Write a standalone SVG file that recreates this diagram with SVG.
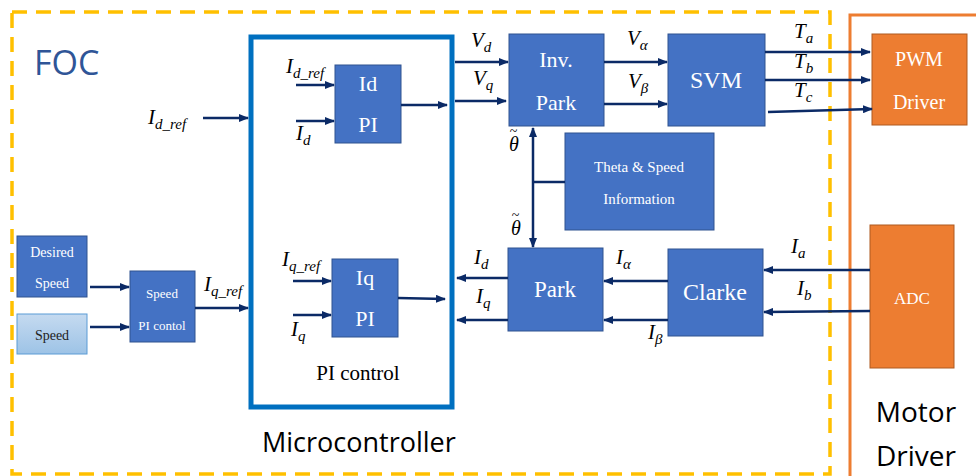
<svg xmlns="http://www.w3.org/2000/svg" width="976" height="476" viewBox="0 0 976 476">
<style>
.blk{fill:#4472C4;stroke:#2F528F;stroke-width:1}
.org{fill:#ED7D31;stroke:#AE5A21;stroke-width:1}
.bt{font-family:'Liberation Serif','Times New Roman',serif;fill:#fff;text-anchor:middle}
.m{font-family:'Liberation Serif','Times New Roman',serif;font-style:italic;font-size:21px;fill:#000}
.th{font-family:'Liberation Serif',serif;font-style:italic;font-size:20px;fill:#000}
.tl{font-style:normal;font-size:14px}
.s{font-size:15px}
.w{stroke:#0B2A66;stroke-width:2.5;fill:none}
.a{marker-end:url(#ah)}
</style>
<defs>
<marker id="ah" viewBox="0 0 10 8" refX="9" refY="4" markerWidth="10" markerHeight="8" markerUnits="userSpaceOnUse" orient="auto">
<path d="M0,0L10,4L0,8z" fill="#0B2A66"/>
</marker>
<marker id="as" viewBox="0 0 10 8" refX="9" refY="4" markerWidth="10" markerHeight="8" markerUnits="userSpaceOnUse" orient="auto-start-reverse">
<path d="M0,0L10,4L0,8z" fill="#0B2A66"/>
</marker>
<linearGradient id="lg" x1="0" y1="0" x2="0" y2="1">
<stop offset="0" stop-color="#C5DAF0"/><stop offset="1" stop-color="#9DC3E6"/>
</linearGradient>
</defs>
<rect width="976" height="476" fill="#fff"/>
<g id="foc">
<rect x="12" y="12" width="818" height="462" fill="none" stroke="#FFC000" stroke-width="3.5" stroke-dasharray="15 9"/>
<text x="34" y="75" font-family="'Open Sans','Liberation Sans',sans-serif" font-size="34" fill="#2F5597">FOC</text>
</g>
<g id="motor-driver">
<rect x="850" y="15" width="140" height="470" fill="none" stroke="#ED7D31" stroke-width="3"/>
<text x="916" y="422" text-anchor="middle" font-family="'Open Sans','Liberation Sans',sans-serif" font-size="28" fill="#000">Motor</text>
<text x="916" y="466" text-anchor="middle" font-family="'Open Sans','Liberation Sans',sans-serif" font-size="28" fill="#000">Driver</text>
</g>
<g id="microcontroller">
<rect x="251" y="37" width="201" height="370" fill="none" stroke="#0070C0" stroke-width="5"/>
<text x="358" y="380" text-anchor="middle" font-family="'Liberation Serif',serif" font-size="21" fill="#000">PI control</text>
<text x="262" y="452" font-family="'Open Sans','Liberation Sans',sans-serif" font-size="27" fill="#000">Microcontroller</text>
</g>
<g id="id-pi"><rect class="blk" x="335" y="65" width="66" height="78"/>
<text class="bt" x="368" y="91" font-size="22">Id</text><text class="bt" x="368" y="132" font-size="22">PI</text></g>
<g id="iq-pi"><rect class="blk" x="332" y="259" width="66" height="78"/>
<text class="bt" x="365" y="285" font-size="22">Iq</text><text class="bt" x="365" y="326" font-size="22">PI</text></g>
<g id="inv-park"><rect class="blk" x="509" y="34" width="95" height="92"/>
<text class="bt" x="556" y="67" font-size="22">Inv.</text><text class="bt" x="556" y="110" font-size="22">Park</text></g>
<g id="svm"><rect class="blk" x="668" y="34" width="97" height="92"/>
<text class="bt" x="716" y="88" font-size="24">SVM</text></g>
<g id="theta-speed"><rect class="blk" x="565" y="133" width="149" height="97"/>
<text class="bt" x="639" y="172" font-size="15">Theta &amp; Speed</text><text class="bt" x="639" y="204" font-size="15">Information</text></g>
<g id="park"><rect class="blk" x="508" y="248" width="95" height="83"/>
<text class="bt" x="555" y="297" font-size="23">Park</text></g>
<g id="clarke"><rect class="blk" x="668" y="249" width="95" height="87"/>
<text class="bt" x="715" y="300" font-size="24">Clarke</text></g>
<g id="pwm-driver"><rect class="org" x="872" y="34" width="95" height="91"/>
<text class="bt" x="919" y="66" font-size="20">PWM</text><text class="bt" x="919" y="109" font-size="20">Driver</text></g>
<g id="adc"><rect class="org" x="870" y="225" width="84" height="143"/>
<text class="bt" x="912" y="304" font-size="17">ADC</text></g>
<g id="desired-speed"><rect class="blk" x="17" y="236" width="70" height="61"/>
<text class="bt" x="52" y="257" font-size="14">Desired</text><text class="bt" x="52" y="288" font-size="14">Speed</text></g>
<g id="speed"><rect x="17" y="314" width="70" height="40" fill="url(#lg)" stroke="#5B9BD5" stroke-width="1"/>
<text x="52" y="340" text-anchor="middle" font-family="'Liberation Serif',serif" font-size="14" fill="#222">Speed</text></g>
<g id="speed-pi"><rect class="blk" x="130" y="271" width="65" height="71"/>
<text class="bt" x="162" y="298" font-size="13">Speed</text><text class="bt" x="162" y="330" font-size="13">PI contol</text></g>
<g id="connectors">
<path class="w a" d="M203,118H248"/>
<path class="w a" d="M296,85H334"/>
<path class="w a" d="M296,121H334"/>
<path class="w a" d="M401,105H447"/>
<path class="w a" d="M455,62H508"/>
<path class="w a" d="M455,101H506"/>
<path class="w a" d="M604,62H667"/>
<path class="w a" d="M604,104H667"/>
<path class="w a" d="M765,52H870"/>
<path class="w a" d="M765,80H870"/>
<path class="w a" d="M768,112L872,109"/>
<path class="w" d="M533,128V247" marker-start="url(#as)" marker-end="url(#ah)"/>
<path class="w" d="M533,182H565"/>
<path class="w a" d="M508,278H457"/>
<path class="w a" d="M508,320H457"/>
<path class="w a" d="M668,281H604"/>
<path class="w a" d="M668,320H604"/>
<path class="w a" d="M870,270H764"/>
<path class="w a" d="M870,311L764,312"/>
<path class="w a" d="M293,281H331"/>
<path class="w a" d="M293,315H331"/>
<path class="w a" d="M398,298L445,299"/>
<path class="w a" d="M90,287H129"/>
<path class="w a" d="M90,327H129"/>
<path class="w a" d="M195,308H248"/>
</g>
<g id="labels">
<text class="m" x="148" y="124">I<tspan class="s" dy="5">d_ref</tspan></text>
<text class="m" x="286" y="73">I<tspan class="s" dy="5">d_ref</tspan></text>
<text class="m" x="296" y="140">I<tspan class="s" dy="5">d</tspan></text>
<text class="m" x="471" y="47">V<tspan class="s" dy="5">d</tspan></text>
<text class="m" x="473" y="85">V<tspan class="s" dy="5">q</tspan></text>
<text class="m" x="627" y="45">V<tspan class="s" dy="5">α</tspan></text>
<text class="m" x="628" y="88">V<tspan class="s" dy="5">β</tspan></text>
<text class="m" x="794" y="38">T<tspan class="s" dy="5">a</tspan></text>
<text class="m" x="794" y="68">T<tspan class="s" dy="5">b</tspan></text>
<text class="m" x="794" y="97">T<tspan class="s" dy="5">c</tspan></text>
<text class="th" x="509" y="151">θ<tspan class="tl" dx="-9" dy="-15">~</tspan></text>
<text class="th" x="511" y="235">θ<tspan class="tl" dx="-9" dy="-15">~</tspan></text>
<text class="m" x="474" y="264">I<tspan class="s" dy="5">d</tspan></text>
<text class="m" x="476" y="303">I<tspan class="s" dy="5">q</tspan></text>
<text class="m" x="616" y="264">I<tspan class="s" dy="5">α</tspan></text>
<text class="m" x="648" y="339">I<tspan class="s" dy="5">β</tspan></text>
<text class="m" x="791" y="253">I<tspan class="s" dy="5">a</tspan></text>
<text class="m" x="797" y="295">I<tspan class="s" dy="5">b</tspan></text>
<text class="m" x="282" y="266">I<tspan class="s" dy="5">q_ref</tspan></text>
<text class="m" x="291" y="336">I<tspan class="s" dy="5">q</tspan></text>
<text class="m" x="204" y="291">I<tspan class="s" dy="5">q_ref</tspan></text>
</g>
</svg>
